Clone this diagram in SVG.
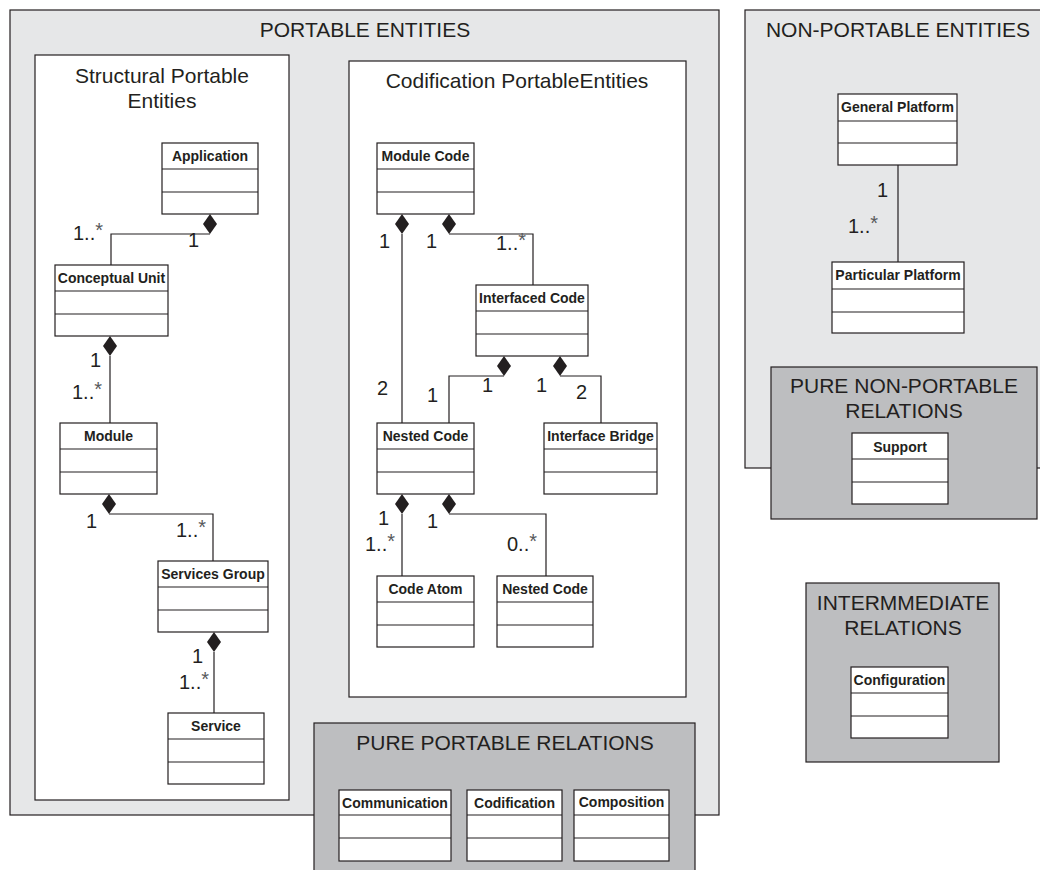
<svg xmlns="http://www.w3.org/2000/svg" width="1040" height="870" viewBox="0 0 1040 870">
  <style>
    .frame-light { fill: #e6e7e8; stroke: #231f20; stroke-width: 1.2; }
    .frame-white { fill: #ffffff; stroke: #231f20; stroke-width: 1.2; }
    .frame-dark { fill: #bdbec0; stroke: #231f20; stroke-width: 1.2; }
    .cls rect { fill: #ffffff; stroke: #231f20; stroke-width: 1.2; }
    .cls line { stroke: #231f20; stroke-width: 1.2; }
    .cls text { font-family: "Liberation Sans", Arial, sans-serif; font-weight: bold; font-size: 14px; fill: #231f20; text-anchor: middle; }
    .title { font-family: "Liberation Sans", Arial, sans-serif; font-size: 21px; fill: #231f20; text-anchor: middle; }
    .conn path.line { fill: none; stroke: #231f20; stroke-width: 1.2; }
    .conn path.dia { fill: #231f20; stroke: none; }
    .mult { font-family: "Liberation Sans", Arial, sans-serif; font-size: 20px; fill: #231f20; }
    .star { font-size: 20px; fill: #58595b; }
  </style>

  <!-- package frames -->
  <g id="portable-entities">
    <rect class="frame-light" x="10" y="10" width="709" height="805"/>
    <text class="title" x="365" y="37">PORTABLE ENTITIES</text>
  </g>
  <g id="non-portable-entities">
    <rect class="frame-light" x="745" y="10" width="310" height="458"/>
    <text class="title" x="898" y="37">NON-PORTABLE ENTITIES</text>
  </g>
  <g id="structural-portable-entities">
    <rect class="frame-white" x="35" y="55" width="254" height="745"/>
    <text class="title" x="162" y="83">Structural Portable</text>
    <text class="title" x="162" y="108">Entities</text>
  </g>
  <g id="codification-portable-entities">
    <rect class="frame-white" x="349" y="61" width="337" height="636"/>
    <text class="title" x="517" y="88">Codification PortableEntities</text>
  </g>
  <g id="pure-portable-relations">
    <rect class="frame-dark" x="314" y="723" width="381" height="160"/>
    <text class="title" x="505" y="750">PURE PORTABLE RELATIONS</text>
  </g>
  <g id="pure-non-portable-relations">
    <rect class="frame-dark" x="771" y="367" width="266" height="152"/>
    <text class="title" x="904" y="393">PURE NON-PORTABLE</text>
    <text class="title" x="904" y="418">RELATIONS</text>
  </g>
  <g id="intermediate-relations">
    <rect class="frame-dark" x="806" y="583" width="193" height="179"/>
    <text class="title" x="903" y="610">INTERMMEDIATE</text>
    <text class="title" x="903" y="635">RELATIONS</text>
  </g>

  <!-- connectors: composition diamonds sit on the owning class -->
  <g id="connectors" class="conn">
    <path class="line" d="M210,234 H111 V265"/>
    <path class="dia" d="M210,214 L217,224 L210,234 L203,224 Z"/>
    <path class="line" d="M110,356 V423"/>
    <path class="dia" d="M110,336 L117,346 L110,356 L103,346 Z"/>
    <path class="line" d="M109,514 H213 V561"/>
    <path class="dia" d="M109,494 L116,504 L109,514 L102,504 Z"/>
    <path class="line" d="M214,652 V713"/>
    <path class="dia" d="M214,632 L221,642 L214,652 L207,642 Z"/>

    <path class="line" d="M402,234 V423"/>
    <path class="dia" d="M402,214 L409,224 L402,234 L395,224 Z"/>
    <path class="line" d="M449,234 H533 V285"/>
    <path class="dia" d="M449,214 L456,224 L449,234 L442,224 Z"/>
    <path class="line" d="M504,376 H449 V423"/>
    <path class="dia" d="M504,356 L511,366 L504,376 L497,366 Z"/>
    <path class="line" d="M560,376 H601 V423"/>
    <path class="dia" d="M560,356 L567,366 L560,376 L553,366 Z"/>
    <path class="line" d="M402,514 V576"/>
    <path class="dia" d="M402,494 L409,504 L402,514 L395,504 Z"/>
    <path class="line" d="M449,514 H546 V576"/>
    <path class="dia" d="M449,494 L456,504 L449,514 L442,504 Z"/>

    <path class="line" d="M898,165 V262"/>

    <!-- multiplicities -->
    <text class="mult" x="73" y="240">1..<tspan class="star" dy="-3">*</tspan></text>
    <text class="mult" x="188" y="247">1</text>
    <text class="mult" x="90" y="367">1</text>
    <text class="mult" x="72" y="399">1..<tspan class="star" dy="-3">*</tspan></text>
    <text class="mult" x="86" y="528">1</text>
    <text class="mult" x="176" y="537">1..<tspan class="star" dy="-3">*</tspan></text>
    <text class="mult" x="192" y="663">1</text>
    <text class="mult" x="179" y="689">1..<tspan class="star" dy="-3">*</tspan></text>

    <text class="mult" x="379" y="248">1</text>
    <text class="mult" x="426" y="248">1</text>
    <text class="mult" x="496" y="250">1..<tspan class="star" dy="-3">*</tspan></text>
    <text class="mult" x="377" y="395">2</text>
    <text class="mult" x="427" y="402">1</text>
    <text class="mult" x="482" y="392">1</text>
    <text class="mult" x="536" y="392">1</text>
    <text class="mult" x="576" y="399">2</text>
    <text class="mult" x="378" y="525">1</text>
    <text class="mult" x="427" y="528">1</text>
    <text class="mult" x="365" y="551">1..<tspan class="star" dy="-3">*</tspan></text>
    <text class="mult" x="507" y="551">0..<tspan class="star" dy="-3">*</tspan></text>

    <text class="mult" x="877" y="197">1</text>
    <text class="mult" x="848" y="233">1..<tspan class="star" dy="-3">*</tspan></text>
  </g>

  <!-- classes: name compartment + two empty compartments -->
  <g id="application" class="cls">
    <rect x="162" y="143" width="96" height="71"/>
    <line x1="162" y1="169" x2="258" y2="169"/><line x1="162" y1="192" x2="258" y2="192"/>
    <text x="210" y="161">Application</text>
  </g>
  <g id="conceptual-unit" class="cls">
    <rect x="55" y="265" width="113" height="71"/>
    <line x1="55" y1="291" x2="168" y2="291"/><line x1="55" y1="314" x2="168" y2="314"/>
    <text x="111.5" y="283">Conceptual Unit</text>
  </g>
  <g id="module" class="cls">
    <rect x="60" y="423" width="97" height="71"/>
    <line x1="60" y1="449" x2="157" y2="449"/><line x1="60" y1="472" x2="157" y2="472"/>
    <text x="108.5" y="441">Module</text>
  </g>
  <g id="services-group" class="cls">
    <rect x="158" y="561" width="110" height="71"/>
    <line x1="158" y1="587" x2="268" y2="587"/><line x1="158" y1="610" x2="268" y2="610"/>
    <text x="213" y="579">Services Group</text>
  </g>
  <g id="service" class="cls">
    <rect x="168" y="713" width="96" height="71"/>
    <line x1="168" y1="739" x2="264" y2="739"/><line x1="168" y1="762" x2="264" y2="762"/>
    <text x="216" y="731">Service</text>
  </g>

  <g id="module-code" class="cls">
    <rect x="377" y="143" width="97" height="71"/>
    <line x1="377" y1="169" x2="474" y2="169"/><line x1="377" y1="192" x2="474" y2="192"/>
    <text x="425.5" y="161">Module Code</text>
  </g>
  <g id="interfaced-code" class="cls">
    <rect x="476" y="285" width="112" height="71"/>
    <line x1="476" y1="311" x2="588" y2="311"/><line x1="476" y1="334" x2="588" y2="334"/>
    <text x="532" y="303">Interfaced Code</text>
  </g>
  <g id="nested-code" class="cls">
    <rect x="377" y="423" width="97" height="71"/>
    <line x1="377" y1="449" x2="474" y2="449"/><line x1="377" y1="472" x2="474" y2="472"/>
    <text x="425.5" y="441">Nested Code</text>
  </g>
  <g id="interface-bridge" class="cls">
    <rect x="544" y="423" width="113" height="71"/>
    <line x1="544" y1="449" x2="657" y2="449"/><line x1="544" y1="472" x2="657" y2="472"/>
    <text x="600.5" y="441">Interface Bridge</text>
  </g>
  <g id="code-atom" class="cls">
    <rect x="377" y="576" width="97" height="71"/>
    <line x1="377" y1="602" x2="474" y2="602"/><line x1="377" y1="625" x2="474" y2="625"/>
    <text x="425.5" y="594">Code Atom</text>
  </g>
  <g id="nested-code-inner" class="cls">
    <rect x="497" y="576" width="96" height="71"/>
    <line x1="497" y1="602" x2="593" y2="602"/><line x1="497" y1="625" x2="593" y2="625"/>
    <text x="545" y="594">Nested Code</text>
  </g>

  <g id="communication" class="cls">
    <rect x="339" y="790" width="112" height="71"/>
    <line x1="339" y1="815" x2="451" y2="815"/><line x1="339" y1="838" x2="451" y2="838"/>
    <text x="395" y="808">Communication</text>
  </g>
  <g id="codification" class="cls">
    <rect x="467" y="790" width="95" height="71"/>
    <line x1="467" y1="815" x2="562" y2="815"/><line x1="467" y1="838" x2="562" y2="838"/>
    <text x="514.5" y="808">Codification</text>
  </g>
  <g id="composition" class="cls">
    <rect x="574" y="790" width="95" height="71"/>
    <line x1="574" y1="815" x2="669" y2="815"/><line x1="574" y1="838" x2="669" y2="838"/>
    <text x="621.5" y="807">Composition</text>
  </g>

  <g id="general-platform" class="cls">
    <rect x="838" y="94" width="119" height="71"/>
    <line x1="838" y1="121" x2="957" y2="121"/><line x1="838" y1="143" x2="957" y2="143"/>
    <text x="897.5" y="112">General Platform</text>
  </g>
  <g id="particular-platform" class="cls">
    <rect x="832" y="262" width="132" height="71"/>
    <line x1="832" y1="289" x2="964" y2="289"/><line x1="832" y1="312" x2="964" y2="312"/>
    <text x="898" y="280">Particular Platform</text>
  </g>
  <g id="support" class="cls">
    <rect x="852" y="433" width="96" height="71"/>
    <line x1="852" y1="459" x2="948" y2="459"/><line x1="852" y1="482" x2="948" y2="482"/>
    <text x="900" y="452">Support</text>
  </g>
  <g id="configuration" class="cls">
    <rect x="851" y="667" width="97" height="71"/>
    <line x1="851" y1="693" x2="948" y2="693"/><line x1="851" y1="716" x2="948" y2="716"/>
    <text x="899.5" y="685">Configuration</text>
  </g>
</svg>
